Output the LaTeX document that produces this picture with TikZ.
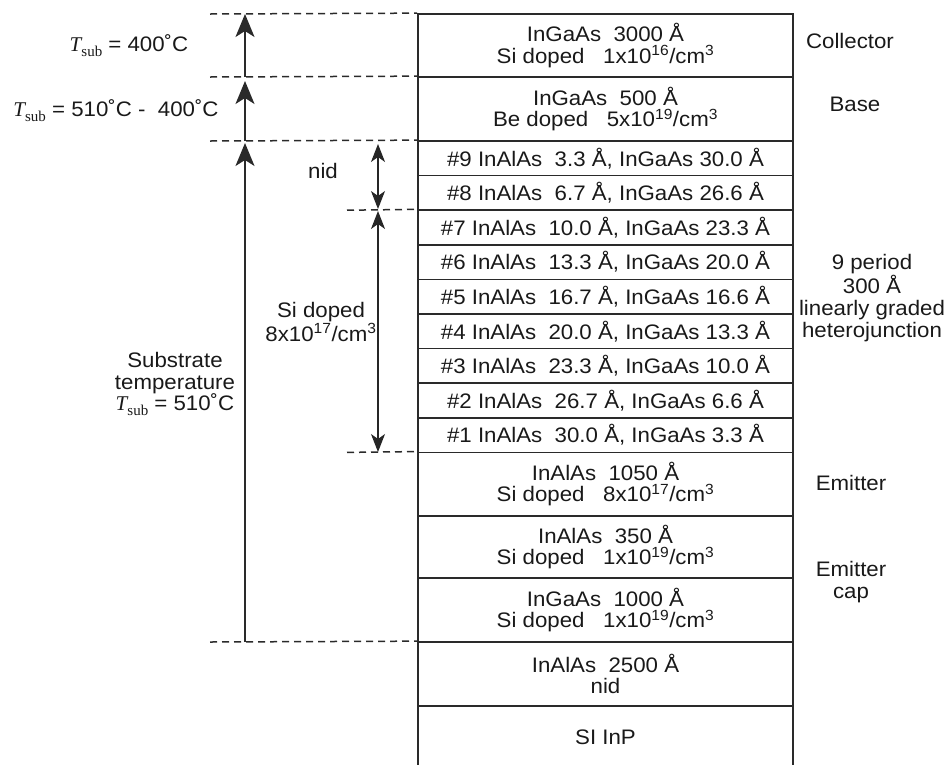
\documentclass[tikz,border=0pt]{standalone}
\usepackage{fontspec}
\setmainfont{Liberation Sans}[FakeStretch=1.06]
\newfontfamily\tfont{Liberation Serif}
\usetikzlibrary{arrows.meta}
\newcommand\Tsub{{\tfont\itshape T}\raisebox{-0.45ex}{\tfont\fontsize{15}{15}\selectfont sub}}
\newcommand\sps[1]{\textsuperscript{#1}}
\newcommand\dg{˚}
\definecolor{linec}{HTML}{2A2A2A}
\tikzset{
  every node/.style={font=\fontsize{21}{21.5}\selectfont, text=black!90},
  layer/.style={draw=linec, line width=1.7pt, minimum width=375pt, inner sep=0pt, align=center},
  lbl/.style={align=center, inner sep=0pt},
  dashln/.style={draw=linec, line width=1.5pt, dash pattern=on 7pt off 5pt},
  bigarr/.style={draw=linec, line width=1.6pt, -{Stealth[length=23pt,width=19pt,inset=6pt]}},
  smarr/.style={draw=black!85, line width=1.2pt, {Stealth[length=18pt,width=14pt,inset=5pt]}-{Stealth[length=18pt,width=14pt,inset=5pt]}},
}
\begin{document}
\begin{tikzpicture}[x=1pt,y=-1pt]
\useasboundingbox (0,0) rectangle (948,764);
% layers
\node[layer, minimum height=63pt] (coll) at (605.5,45.5) {InGaAs\ \ 3000 Å\\Si doped\ \ \ 1x10\sps{16}/cm\sps{3}};
\node[layer, minimum height=64pt] (base) at (605.5,109) {InGaAs\ \ 500 Å\\Be doped\ \ \ 5x10\sps{19}/cm\sps{3}};
\node[layer, minimum height=34.6pt] (p9) at (605.5,158.3) {\#9 InAlAs\ \ 3.3 Å, InGaAs 30.0 Å};
\node[layer, minimum height=34.6pt] (p8) at (605.5,192.9) {\#8 InAlAs\ \ 6.7 Å, InGaAs 26.6 Å};
\node[layer, minimum height=34.6pt] (p7) at (605.5,227.5) {\#7 InAlAs\ \ 10.0 Å, InGaAs 23.3 Å};
\node[layer, minimum height=34.6pt] (p6) at (605.5,262.1) {\#6 InAlAs\ \ 13.3 Å, InGaAs 20.0 Å};
\node[layer, minimum height=34.6pt] (p5) at (605.5,296.7) {\#5 InAlAs\ \ 16.7 Å, InGaAs 16.6 Å};
\node[layer, minimum height=34.6pt] (p4) at (605.5,331.3) {\#4 InAlAs\ \ 20.0 Å, InGaAs 13.3 Å};
\node[layer, minimum height=34.6pt] (p3) at (605.5,365.9) {\#3 InAlAs\ \ 23.3 Å, InGaAs 10.0 Å};
\node[layer, minimum height=34.6pt] (p2) at (605.5,400.5) {\#2 InAlAs\ \ 26.7 Å, InGaAs 6.6 Å};
\node[layer, minimum height=34.6pt] (p1) at (605.5,435.1) {\#1 InAlAs\ \ 30.0 Å, InGaAs 3.3 Å};
\node[layer, minimum height=63.6pt] (emit) at (605.5,484.2) {InAlAs\ \ 1050 Å\\Si doped\ \ \ 8x10\sps{17}/cm\sps{3}};
\node[layer, minimum height=62pt] (cap1) at (605.5,547) {InAlAs\ \ 350 Å\\Si doped\ \ \ 1x10\sps{19}/cm\sps{3}};
\node[layer, minimum height=64pt] (cap2) at (605.5,610) {InGaAs\ \ 1000 Å\\Si doped\ \ \ 1x10\sps{19}/cm\sps{3}};
\node[layer, minimum height=64pt] (buf) at (605.5,674) {InAlAs\ \ 2500 Å\\nid};
\node[layer, minimum height=62pt] (inp) at (605.5,737) {SI InP};
% dashed guide lines
\coordinate (g0) at (210,14);
\coordinate (g1) at (210,77);
\coordinate (g2) at (210,141);
\coordinate (g3) at (347,210.2);
\coordinate (g4) at (347,452.4);
\coordinate (g5) at (210,642);
\draw[dashln] (g0) -- (coll.north west);
\draw[dashln] (g1) -- (base.north west);
\draw[dashln] (g2) -- (p9.north west);
\draw[dashln] (g3) -- (p7.north west);
\draw[dashln] (g4) -- (emit.north west);
\draw[dashln] (g5) -- (buf.north west);
% arrows
\coordinate (a1s) at (245,77);
\coordinate (a1e) at (245,14);
\coordinate (a2s) at (245,141);
\coordinate (a2e) at (245,81);
\coordinate (a3s) at (245,642);
\coordinate (a3e) at (245,143);
\coordinate (n1) at (378,144);
\coordinate (n2) at (378,209);
\coordinate (s1) at (378,211);
\coordinate (s2) at (378,452);
\draw[bigarr] (a1s) -- (a1e);
\draw[bigarr] (a2s) -- (a2e);
\draw[bigarr] (a3s) -- (a3e);
\draw[smarr] (n1) -- (n2);
\draw[smarr] (s1) -- (s2);
% left labels
\node[lbl] (t400) at (129,46) {\Tsub{} = 400\dg C};
\node[lbl] (t510) at (116,111) {\Tsub{} = 510\dg C -\ \ 400\dg C};
\node[lbl] (nidl) at (323,171) {nid};
\node[lbl] (sil) at (321,322) {Si doped\\8x10\sps{17}/cm\sps{3}};
\node[lbl] (subl) at (175,384) {Substrate\\temperature\\\Tsub{} = 510\dg C};
% right labels
\node[lbl] (lcoll) at (850,41) {Collector};
\node[lbl] (lbase) at (855,104) {Base};
\node[lbl, font=\fontsize{21}{22}\selectfont] (lper) at (872,298) {9 period\\300 Å\\linearly graded\\heterojunction};
\node[lbl] (lemit) at (851,483) {Emitter};
\node[lbl] (lcap) at (851,582) {Emitter\\cap};
\end{tikzpicture}
\end{document}
